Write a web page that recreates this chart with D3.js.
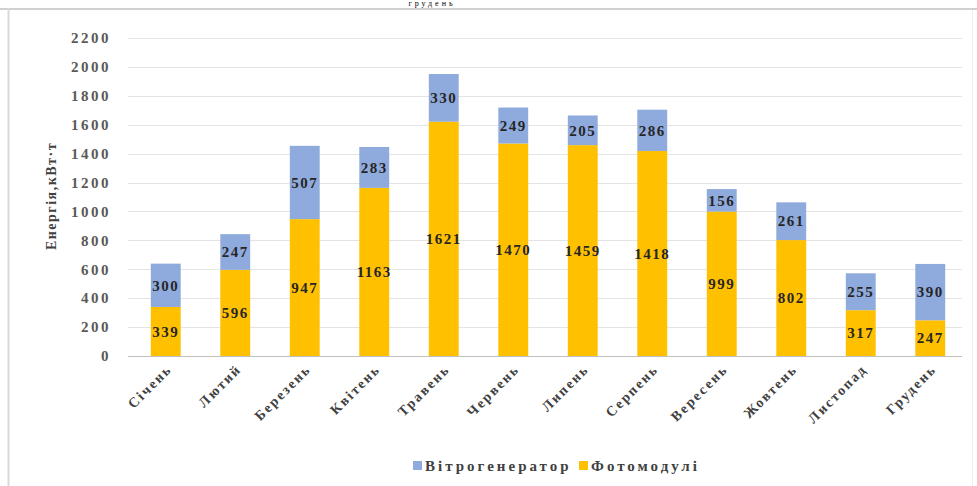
<!DOCTYPE html>
<html><head><meta charset="utf-8">
<script src="https://cdn.jsdelivr.net/npm/d3@7"></script>
<style>body{margin:0;background:#fff}svg{display:block}</style>
</head><body>
<svg id="c" width="977" height="486"></svg>
<script>
const categories = ["Січень","Лютий","Березень","Квітень","Травень","Червень","Липень","Серпень","Вересень","Жовтень","Листопад","Грудень"];
const solar = [339,596,947,1163,1621,1470,1459,1418,999,802,317,247];
const wind  = [300,247,507,283,330,249,205,286,156,261,255,390];
const yTicks = [0,200,400,600,800,1000,1200,1400,1600,1800,2000,2200];
const seriesNames = ["Вітрогенератор","Фотомодулі"];
const colors = {wind:"#8FAADC", solar:"#FFC000"};

const svg = d3.select("#c");
const serif = "'Liberation Serif','Times New Roman',serif";

// frame
svg.append("line").attr("x1",0).attr("x2",977).attr("y1",9).attr("y2",9).attr("stroke","#d0d0d0").attr("stroke-width",2);
svg.append("line").attr("x1",8.5).attr("x2",8.5).attr("y1",8).attr("y2",486).attr("stroke","#d9d9d9").attr("stroke-width",2);
svg.append("line").attr("x1",972.5).attr("x2",972.5).attr("y1",10).attr("y2",486).attr("stroke","#eeeeee").attr("stroke-width",1);

// caption fragment above the frame
svg.append("text").attr("x",432).attr("y",6).attr("text-anchor","middle")
  .attr("font-family",serif).attr("font-size",8).attr("letter-spacing",3).attr("fill","#000").text("грудень");

const x = d3.scaleBand().domain(categories).range([131,965]).paddingInner(0.57).paddingOuter(0.285);
const y = d3.scaleLinear().domain([0,2200]).range([356,38]);

// gridlines
svg.append("g").selectAll("line").data(yTicks).join("line")
  .attr("x1",128).attr("x2",962).attr("y1",d=>Math.round(y(d))+0.5).attr("y2",d=>Math.round(y(d))+0.5)
  .attr("stroke",d=>d===0?"#bfbfbf":"#e4e4e4").attr("stroke-width",1);

// y axis
const yAxis = d3.axisLeft(y).tickValues(yTicks).tickSize(0).tickPadding(0).tickFormat(d3.format("d"));
const gy = svg.append("g").attr("transform","translate(111,0)").call(yAxis);
gy.select(".domain").remove();
gy.selectAll("text").attr("font-family",serif).attr("font-size",15).attr("letter-spacing",2.5).attr("font-weight","bold").attr("fill","#595959");

svg.append("text").attr("transform","translate(56,196) rotate(-90)").attr("text-anchor","middle")
  .attr("font-family",serif).attr("font-size",14).attr("letter-spacing",1.5).attr("font-weight","bold").attr("fill","#404040").text("Енергія,кВт·т");

// bars
const g = svg.append("g");
const bw = x.bandwidth();
categories.forEach((c,i)=>{
  const x0 = x(c);
  g.append("rect").attr("x",x0).attr("width",bw).attr("y",y(solar[i])).attr("height",y(0)-y(solar[i])).attr("fill",colors.solar);
  g.append("rect").attr("x",x0).attr("width",bw).attr("y",y(solar[i]+wind[i])).attr("height",y(solar[i])-y(solar[i]+wind[i])).attr("fill",colors.wind);
  g.append("text").attr("x",x0+bw/2).attr("y",(y(0)+y(solar[i]))/2).attr("dy","0.35em").attr("text-anchor","middle")
    .attr("font-family",serif).attr("font-size",15).attr("letter-spacing",1.5).attr("font-weight","bold").attr("fill","#262626").text(solar[i]);
  g.append("text").attr("x",x0+bw/2).attr("y",(y(solar[i])+y(solar[i]+wind[i]))/2).attr("dy","0.35em").attr("text-anchor","middle")
    .attr("font-family",serif).attr("font-size",15).attr("letter-spacing",1.5).attr("font-weight","bold").attr("fill","#262626").text(wind[i]);
});

// x axis labels
const xAxis = d3.axisBottom(x).tickSize(0).tickPadding(0);
const gx = svg.append("g").attr("transform","translate(0,356)").call(xAxis);
gx.select(".domain").remove();
gx.selectAll("text").attr("text-anchor","end").attr("dy",0).attr("y",0)
  .attr("transform","translate(7,14) rotate(-45)")
  .attr("font-family",serif).attr("font-size",14).attr("letter-spacing",2).attr("font-weight","bold").attr("fill","#404040");

// legend
const legend = svg.append("g").attr("transform","translate(413,466)");
const items = [{n:seriesNames[0],c:colors.wind,x:0},{n:seriesNames[1],c:colors.solar,x:166}];
items.forEach(it=>{
  legend.append("rect").attr("x",it.x).attr("y",-5).attr("width",9).attr("height",9).attr("fill",it.c);
  legend.append("text").attr("x",it.x+12).attr("y",0).attr("dy","0.35em")
    .attr("font-family",serif).attr("font-size",15).attr("letter-spacing",3).attr("font-weight","bold").attr("fill","#404040").text(it.n);
});
</script>
</body></html>
